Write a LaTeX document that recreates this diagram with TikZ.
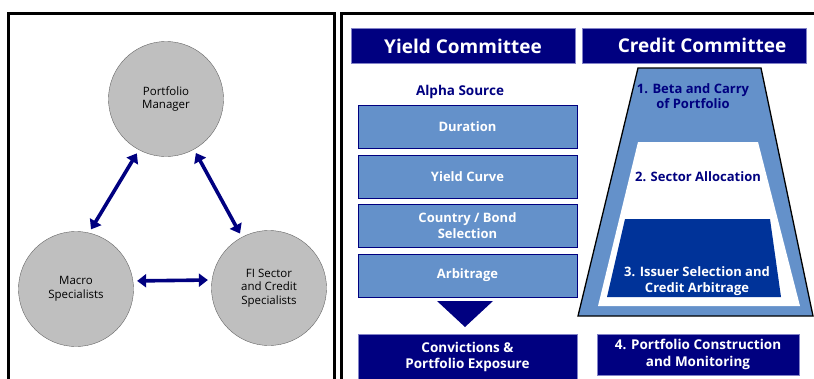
\documentclass[tikz,border=0pt]{standalone}
\usepackage{fontspec}
\setmainfont{Open Sans}
\usetikzlibrary{arrows.meta}

\definecolor{navy}{RGB}{0,0,128}
\definecolor{steel}{RGB}{100,145,202}
\definecolor{royal}{RGB}{0,51,153}
\definecolor{pale}{RGB}{130,130,200}

\begin{document}
\begin{tikzpicture}[x=1pt,y=-1pt]
        \tikzstyle{every node}=[align=center,inner sep=0pt,font=\fontsize{11.5}{13.5}\selectfont]
        \tikzstyle{team}=[circle,draw=black!60,fill=black!25,minimum size=115pt]
        \tikzstyle{link}=[draw=navy,line width=3.6pt,{Triangle[length=9pt,width=13pt]}-{Triangle[length=9pt,width=13pt]},shorten <=4pt,shorten >=4pt]
        \tikzstyle{head}=[fill=navy,draw=pale,text=white,minimum width=224pt,minimum height=35pt,font=\bfseries\fontsize{19}{22}\selectfont]
        \tikzstyle{source}=[fill=steel,draw=navy,text=white,minimum width=219pt,minimum height=43pt,font=\bfseries\fontsize{13}{16.5}\selectfont]
        \tikzstyle{result}=[fill=navy,draw=pale,text=white,font=\bfseries\fontsize{13.5}{16.5}\selectfont]
        \tikzstyle{stage}=[font=\bfseries\fontsize{13}{15.5}\selectfont]
        \useasboundingbox (0,0) rectangle (814,378);
        % panel frames
        \draw[line width=2.5pt] (8.5,380) |- (334.5,13.5) -- (334.5,380);
        \draw[line width=2.5pt] (341.5,380) |- (816,13.5);
        % left panel: who talks to whom
        \node[team] (pm) at (166,99) {Portfolio\\Manager};
        \node[team] (macro) at (76,289) {Macro\\Specialists};
        \node[team] (fi) at (269,288) {FI Sector\\and Credit\\Specialists};
        \draw[link] (macro.77) -- (pm.242);
        \draw[link] (pm.299) -- (fi.118);
        \draw[link] (macro.8) -- (fi.172);
        % yield committee
        \node[head] (yield) at (463,46) {Yield Committee};
        \node[text=navy,font=\bfseries\fontsize{13.5}{15}\selectfont] (alpha) at (460,92) {Alpha Source};
        \node[source] (dur) at (467.5,126.5) {Duration};
        \node[source] (curve) at (467.5,176.5) {Yield Curve};
        \node[source] (bond) at (467.5,225.5) {Country / Bond\\Selection};
        \node[source] (arb) at (467.5,275.5) {Arbitrage};
        \fill[navy] (437,301) -- (493,301) -- (465,327) -- cycle;
        \node[result,minimum width=219pt,minimum height=46pt] (conv) at (467.5,357) {Convictions \&\\Portfolio Exposure};
        % credit committee funnel
        \node[head] (credit) at (694,45.5) {\hspace{16pt}Credit Committee};
        \filldraw[fill=steel,draw=black,line width=1.3pt] (638,68) -- (761,68) -- (813,316) -- (578,316) -- cycle;
        \fill[white] (638,142) -- (758,142) -- (800,306) -- (598,306) -- cycle;
        \fill[royal] (625,219) -- (770,219) -- (781,297) -- (607,297) -- cycle;
        \node[stage,text=navy] (beta) at (693,96) {1. Beta and Carry\\of Portfolio};
        \node[stage,text=navy] (sector) at (698,177) {2. Sector Allocation};
        \node[stage,text=white] (issuer) at (697,281) {3. Issuer Selection and\\Credit Arbitrage};
        \node[result,minimum width=202pt,minimum height=41pt] (build) at (698,354.5) {4. Portfolio Construction\\and Monitoring};
\end{tikzpicture}
\end{document}
